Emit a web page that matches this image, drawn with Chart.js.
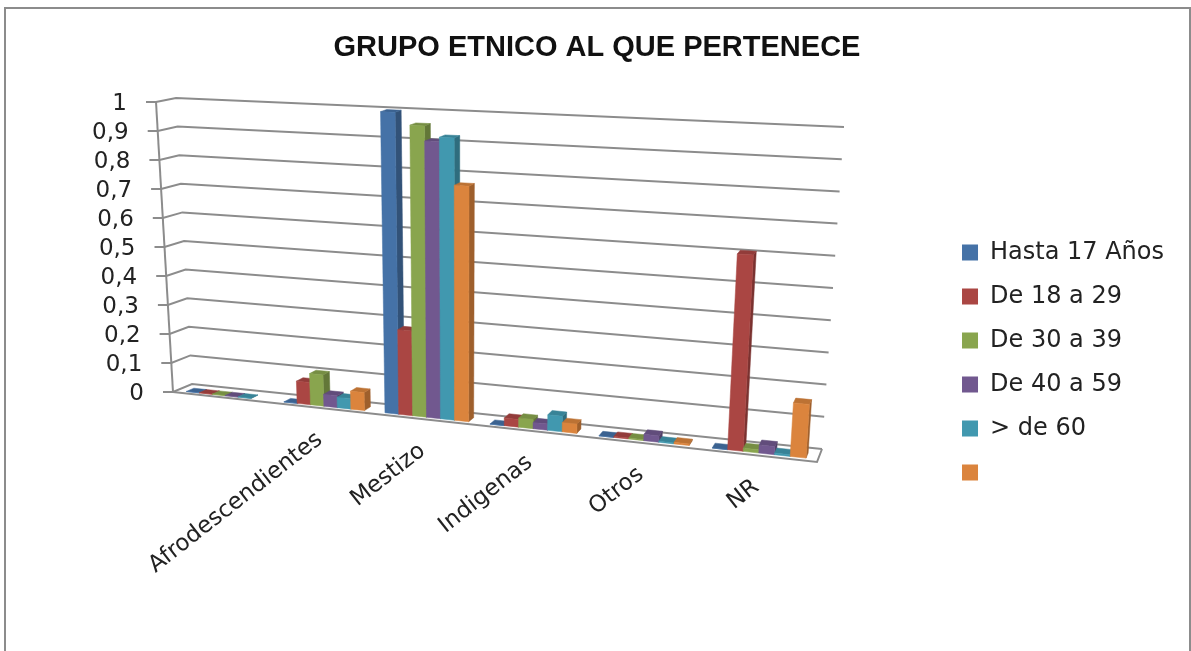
<!DOCTYPE html>
<html>
<head>
<meta charset="utf-8">
<script src="https://cdn.jsdelivr.net/npm/chart.js@4"></script>
<style>
  html, body { margin: 0; padding: 0; background: #fff; overflow: hidden; }
  #frame { position: absolute; left: 4px; top: 7px; width: 1183px; height: 660px; border: 2px solid #8c8c8c; }
  canvas { position: absolute; left: 0; top: 0; }
</style>
</head>
<body>
<div id="frame"></div>
<canvas id="myChart" width="1191" height="651"></canvas>
<script>
const categories = ["", "Afrodescendientes", "Mestizo", "Indigenas", "Otros", "NR"];
const tickValues = [0, 0.1, 0.2, 0.3, 0.4, 0.5, 0.6, 0.7, 0.8, 0.9, 1];
const hasta17 = [0, 0, 1, 0, 0, 0];
const de18a29 = [0, 0.075, 0.28, 0.025, 0.003, 0.61];
const de30a39 = [0, 0.105, 0.96, 0.03, 0.003, 0.01];
const de40a59 = [0, 0.04, 0.91, 0.02, 0.02, 0.025];
const mas60 = [0, 0.035, 0.925, 0.05, 0.003, 0.005];
const sinNombre = [null, 0.06, 0.77, 0.03, 0.005, 0.165];

const FONT = '"DejaVu Sans", sans-serif';
const GRID = "#8c8c8c";

// corners of the 3d box on the page
const box = {
  front: { bl: [173, 392], br: [817, 462], tl: [156, 102], tr: [838, 135] },
  back: { bl: [192, 384], br: [822, 449], tl: [176, 98], tr: [844, 127] },
};

function mix(a, b, t) {
  return [a[0] + (b[0] - a[0]) * t, a[1] + (b[1] - a[1]) * t];
}

function corner(c, u, v) {
  return mix(mix(c.bl, c.br, u), mix(c.tl, c.tr, u), v);
}

// scale pixel -> page pixel, d = 0 front of the floor, d = 1 back wall
function project(chart, px, py, d) {
  const a = chart.chartArea;
  let u = (px - a.left) / (a.right - a.left);
  u = u / (1 + 0.12 * (1 - u)); // columns get wider to the right
  const v = (a.bottom - py) / (a.bottom - a.top);
  return mix(corner(box.front, u, v), corner(box.back, u, v), d);
}

function poly(ctx, pts, color) {
  ctx.beginPath();
  pts.forEach((p, i) => (i ? ctx.lineTo(p[0], p[1]) : ctx.moveTo(p[0], p[1])));
  ctx.closePath();
  ctx.fillStyle = color;
  ctx.strokeStyle = color;
  ctx.lineWidth = 0.5;
  ctx.fill();
  ctx.stroke();
}

function line(ctx, pts) {
  ctx.beginPath();
  pts.forEach((p, i) => (i ? ctx.lineTo(p[0], p[1]) : ctx.moveTo(p[0], p[1])));
  ctx.stroke();
}

function shade(hex, f) {
  const n = parseInt(hex.slice(1), 16);
  const c = [n >> 16, (n >> 8) & 255, n & 255].map((x) => Math.round(x * f));
  return "rgb(" + c.join(",") + ")";
}

const box3d = {
  id: "box3d",
  beforeDatasetsDraw(chart) {
    const ctx = chart.ctx;
    const a = chart.chartArea;
    const y = chart.scales.y;
    const x = chart.scales.x;

    // walls and floor
    ctx.save();
    ctx.strokeStyle = GRID;
    ctx.lineWidth = 2;
    y.ticks.forEach((t) => {
      const py = y.getPixelForValue(t.value);
      const f = project(chart, a.left, py, 0);
      const b = project(chart, a.left, py, 1);
      const e = project(chart, a.right, py, 1);
      line(ctx, [[f[0] - 10, f[1]], f, b, e]);
    });
    line(ctx, [project(chart, a.left, a.top, 0), project(chart, a.left, a.bottom, 0)]);
    line(ctx, [
      project(chart, a.left, a.bottom, 0),
      project(chart, a.right, a.bottom, 0),
      project(chart, a.right, a.bottom, 1),
    ]);

    // value labels follow the slanted axis
    ctx.fillStyle = "#222";
    ctx.font = "23px " + FONT;
    ctx.textAlign = "right";
    ctx.textBaseline = "middle";
    y.ticks.forEach((t) => {
      const f = project(chart, a.left, y.getPixelForValue(t.value), 0);
      ctx.fillText(t.label, f[0] - 29, f[1] + 2);
    });

    // category labels
    ctx.font = "23px " + FONT;
    x.ticks.forEach((t, i) => {
      if (!categories[i]) return;
      const f = project(chart, x.getPixelForValue(i), a.bottom, 0);
      ctx.save();
      ctx.translate(f[0] - 1, f[1] + 29);
      ctx.rotate((-38 * Math.PI) / 180);
      ctx.fillText(categories[i], 0, 0);
      ctx.restore();
    });
    ctx.restore();

    // bars, left to right so the next bar hides the side of the last one
    const d0 = 0.2;
    const d1 = 0.6;
    categories.forEach((c, i) => {
      chart.data.datasets.forEach((ds, k) => {
        const el = chart.getDatasetMeta(k).data[i];
        if (ds.data[i] === null) return;
        const l = el.x - el.width / 2;
        const r = el.x + el.width / 2;
        poly(ctx, [
          project(chart, r, el.base, d0),
          project(chart, r, el.base, d1),
          project(chart, r, el.y, d1),
          project(chart, r, el.y, d0),
        ], shade(ds.backgroundColor, 0.72));
        poly(ctx, [
          project(chart, l, el.y, d0),
          project(chart, r, el.y, d0),
          project(chart, r, el.y, d1),
          project(chart, l, el.y, d1),
        ], shade(ds.backgroundColor, 0.86));
        poly(ctx, [
          project(chart, l, el.base, d0),
          project(chart, r, el.base, d0),
          project(chart, r, el.y, d0),
          project(chart, l, el.y, d0),
        ], ds.backgroundColor);
      });
    });
    return false;
  },
};

new Chart(document.getElementById("myChart"), {
  type: "bar",
  data: {
    labels: categories,
    datasets: [
      { label: "Hasta 17 Años", data: hasta17, backgroundColor: "#4572A7" },
      { label: "De 18 a 29", data: de18a29, backgroundColor: "#AA4643" },
      { label: "De 30 a 39", data: de30a39, backgroundColor: "#89A54E" },
      { label: "De 40 a 59", data: de40a59, backgroundColor: "#71588F" },
      { label: "> de 60", data: mas60, backgroundColor: "#4198AF" },
      { label: "", data: sinNombre, backgroundColor: "#DB843D" },
    ],
  },
  options: {
    responsive: false,
    animation: false,
    layout: { padding: { left: 20, right: 17 } },
    datasets: { bar: { categoryPercentage: 0.8, barPercentage: 1 } },
    scales: {
      x: { grid: { display: false }, border: { display: false }, ticks: { display: false } },
      y: {
        min: 0,
        max: 1,
        afterBuildTicks: (s) => { s.ticks = tickValues.map((v) => ({ value: v })); },
        grid: { display: false },
        border: { display: false },
        ticks: {
          display: false,
          callback: (v) => String(v).replace(".", ","),
        },
      },
    },
    plugins: {
      title: {
        display: true,
        text: "GRUPO ETNICO AL QUE PERTENECE",
        color: "#111",
        font: { family: '"Liberation Sans", sans-serif', size: 29, weight: "bold" },
        padding: { top: 31, bottom: 16 },
      },
      legend: {
        position: "right",
        fullSize: false,
        labels: {
          boxWidth: 16,
          boxHeight: 16,
          padding: 20,
          color: "#222",
          font: { family: FONT, size: 24 },
        },
      },
      tooltip: { enabled: false },
    },
  },
  plugins: [box3d],
});
</script>
</body>
</html>
